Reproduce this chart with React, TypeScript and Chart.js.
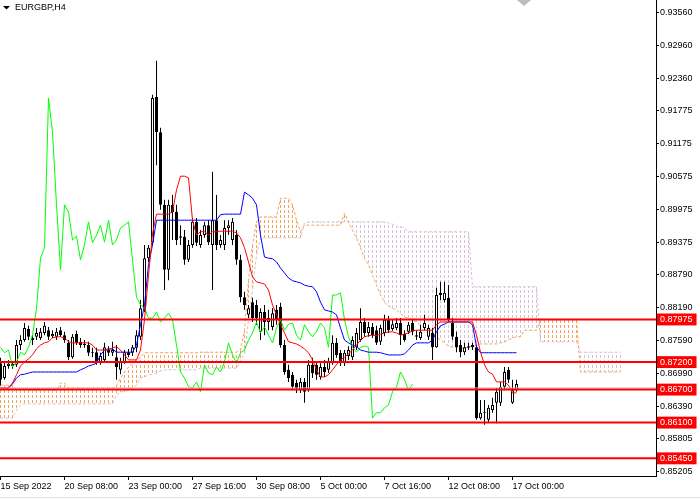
import React, { useEffect, useRef } from 'react';
import { Chart, registerables } from 'chart.js';

Chart.register(...registerables);

const TITLE = 'EURGBP,H4';

const xTickIndex = [0, 16, 32, 48, 64, 80, 96, 112, 128];
const xTickLabels = ['15 Sep 2022', '20 Sep 08:00', '23 Sep 00:00', '27 Sep 16:00', '30 Sep 08:00', '5 Oct 00:00', '7 Oct 16:00', '12 Oct 08:00', '17 Oct 00:00'];

const priceTicks = [0.9356, 0.9296, 0.9236, 0.91775, 0.91175, 0.90575, 0.89975, 0.89375, 0.8879, 0.8819, 0.8759, 0.8699, 0.8639, 0.85805, 0.85205];
const levelValues = [0.87975, 0.872, 0.867, 0.861, 0.8545];
const bidPrice = 0.8673;

const opens = [0.8718,0.8691,0.8713,0.8717,0.8715,0.8751,0.8760,0.8780,0.8760,0.8766,
0.8764,0.8773,0.8778,0.8767,0.8766,0.8778,0.8769,0.8755,0.8729,0.8771,
0.8757,0.8753,0.8751,0.8738,0.8738,0.8720,0.8724,0.8742,0.8737,0.8729,
0.8706,0.8720,0.8738,0.8737,0.8746,0.8766,0.8818,0.8909,0.8938,0.9202,
0.9138,0.9006,0.8888,0.9006,0.8993,0.8946,0.8948,0.8906,0.8933,0.8975,
0.8933,0.8951,0.8969,0.8933,0.8978,0.8933,0.8933,0.8964,0.8942,0.8951,
0.8906,0.8838,0.8806,0.8829,0.8824,0.8775,0.8811,0.8793,0.8784,0.8815,
0.8820,0.8751,0.8706,0.8697,0.8682,0.8669,0.8684,0.8669,0.8715,0.8715,
0.8693,0.8711,0.8706,0.8718,0.8755,0.8737,0.8718,0.8731,0.8729,0.8747,
0.8760,0.8793,0.8773,0.8784,0.8778,0.8757,0.8773,0.8797,0.8780,0.8782,
0.8791,0.8771,0.8775,0.8791,0.8769,0.8764,0.8782,0.8766,0.8773,0.8747,
0.8846,0.8833,0.8837,0.8791,0.8766,0.8751,0.8738,0.8746,0.8751,0.8747,
0.8618,0.8629,0.8615,0.8633,0.8646,0.8646,0.8675,0.8706,0.8646,0.8669];

const closes = [0.8688,0.8713,0.8717,0.8713,0.8751,0.8760,0.8782,0.8766,0.8764,0.8773,
0.8775,0.8786,0.8766,0.8771,0.8775,0.8769,0.8760,0.8729,0.8766,0.8755,
0.8751,0.8751,0.8737,0.8737,0.8720,0.8731,0.8747,0.8737,0.8742,0.8711,
0.8720,0.8738,0.8733,0.8747,0.8769,0.8818,0.8909,0.8928,0.9200,0.9138,
0.9006,0.8888,0.9006,0.8993,0.8942,0.8949,0.8906,0.8933,0.8975,0.8937,
0.8951,0.8969,0.8938,0.8978,0.8933,0.8942,0.8964,0.8969,0.8975,0.8906,
0.8838,0.8824,0.8818,0.8800,0.8800,0.8811,0.8793,0.8800,0.8809,0.8797,
0.8751,0.8702,0.8691,0.8675,0.8673,0.8684,0.8666,0.8715,0.8700,0.8697,
0.8711,0.8702,0.8720,0.8755,0.8733,0.8718,0.8737,0.8742,0.8760,0.8773,
0.8793,0.8773,0.8784,0.8769,0.8755,0.8782,0.8797,0.8778,0.8789,0.8791,
0.8769,0.8760,0.8788,0.8775,0.8766,0.8775,0.8791,0.8782,0.8747,0.8842,
0.8842,0.8846,0.8797,0.8766,0.8747,0.8738,0.8747,0.8749,0.8747,0.8618,
0.8628,0.8628,0.8637,0.8642,0.8666,0.8675,0.8702,0.8688,0.8669,0.8680];

const highs = [0.8728,0.8720,0.8724,0.8722,0.8760,0.8769,0.8791,0.8786,0.8769,0.8782,
0.8782,0.8793,0.8784,0.8778,0.8782,0.8784,0.8775,0.8760,0.8771,0.8777,
0.8764,0.8760,0.8757,0.8746,0.8746,0.8737,0.8755,0.8749,0.8757,0.8751,
0.8728,0.8742,0.8744,0.8751,0.8778,0.8833,0.8933,0.8933,0.9206,0.9268,
0.9146,0.9015,0.9015,0.9024,0.9006,0.8969,0.8960,0.8942,0.8982,0.8982,
0.8960,0.8975,0.8978,0.9066,0.9024,0.8951,0.8978,0.8978,0.8982,0.8960,
0.8915,0.8848,0.8824,0.8837,0.8833,0.8818,0.8824,0.8815,0.8818,0.8824,
0.8828,0.8760,0.8715,0.8702,0.8688,0.8691,0.8691,0.8724,0.8728,0.8720,
0.8718,0.8724,0.8728,0.8769,0.8764,0.8742,0.8742,0.8749,0.8767,0.8782,
0.8818,0.8800,0.8793,0.8791,0.8786,0.8788,0.8806,0.8804,0.8797,0.8800,
0.8800,0.8778,0.8793,0.8797,0.8778,0.8788,0.8806,0.8788,0.8782,0.8855,
0.8866,0.8866,0.8860,0.8800,0.8775,0.8760,0.8755,0.8755,0.8755,0.8751,
0.8651,0.8651,0.8642,0.8655,0.8673,0.8684,0.8711,0.8711,0.8688,0.8688];

const lows = [0.8678,0.8688,0.8708,0.8708,0.8711,0.8742,0.8757,0.8760,0.8751,0.8760,
0.8760,0.8769,0.8760,0.8764,0.8760,0.8766,0.8755,0.8724,0.8726,0.8751,
0.8746,0.8746,0.8731,0.8729,0.8715,0.8715,0.8720,0.8731,0.8731,0.8688,
0.8698,0.8717,0.8729,0.8731,0.8738,0.8760,0.8811,0.8902,0.8933,0.9078,
0.8997,0.8851,0.8869,0.8942,0.8933,0.8933,0.8897,0.8902,0.8928,0.8931,
0.8928,0.8946,0.8933,0.8851,0.8924,0.8928,0.8924,0.8951,0.8933,0.8897,
0.8829,0.8815,0.8800,0.8793,0.8788,0.8760,0.8769,0.8778,0.8778,0.8788,
0.8746,0.8697,0.8684,0.8669,0.8664,0.8664,0.8646,0.8666,0.8691,0.8688,
0.8688,0.8693,0.8700,0.8715,0.8728,0.8713,0.8713,0.8724,0.8724,0.8742,
0.8757,0.8766,0.8766,0.8764,0.8751,0.8751,0.8767,0.8773,0.8777,0.8778,
0.8751,0.8757,0.8771,0.8769,0.8760,0.8760,0.8778,0.8760,0.8724,0.8746,
0.8833,0.8829,0.8793,0.8760,0.8738,0.8729,0.8733,0.8742,0.8742,0.8615,
0.8615,0.8606,0.8611,0.8628,0.8609,0.8640,0.8669,0.8682,0.8644,0.8666];

const tenkan = [0.8673,0.8673,0.8673,0.8682,0.8697,0.8713,0.8720,0.8726,0.8733,0.8744,
0.8751,0.8755,0.8757,0.8764,0.8766,0.8766,0.8764,0.8757,0.8755,0.8755,
0.8755,0.8755,0.8755,0.8751,0.8742,0.8742,0.8742,0.8742,0.8746,0.8748,
0.8742,0.8733,0.8724,0.8724,0.8724,0.8742,0.8797,0.8878,0.8953,0.8989,
0.8989,0.8989,0.8989,0.8993,0.9033,0.9058,0.9058,0.9055,0.8978,0.8951,
0.8957,0.8957,0.8951,0.8957,0.8957,0.8958,0.8958,0.8958,0.8958,0.8955,
0.8946,0.8928,0.8902,0.8875,0.8866,0.8864,0.8862,0.8851,0.8824,0.8806,
0.8788,0.8773,0.8757,0.8755,0.8753,0.8749,0.8744,0.8737,0.8724,0.8706,
0.8693,0.8693,0.8697,0.8706,0.8715,0.8724,0.8729,0.8735,0.8742,0.8751,
0.8760,0.8766,0.8768,0.8769,0.8768,0.8771,0.8773,0.8775,0.8775,0.8773,
0.8769,0.8771,0.8773,0.8777,0.8778,0.8778,0.8778,0.8778,0.8778,0.8788,
0.8793,0.8793,0.8793,0.8793,0.8793,0.8793,0.8793,0.8793,0.8793,0.8769,
0.8738,0.8715,0.8702,0.8698,0.8684,0.8684,0.8684,0.8678,0.8664,0.8664];

const kijun = [0.8673,0.8673,0.8673,0.8680,0.8691,0.8697,0.8698,0.8700,0.8702,0.8702,
0.8702,0.8702,0.8702,0.8702,0.8702,0.8702,0.8702,0.8702,0.8702,0.8702,
0.8706,0.8709,0.8713,0.8715,0.8718,0.8733,0.8742,0.8744,0.8744,0.8738,
0.8738,0.8738,0.8738,0.8738,0.8751,0.8788,0.8824,0.8897,0.8933,0.8978,
0.8978,0.8978,0.8978,0.8978,0.8978,0.8978,0.8978,0.8978,0.8978,0.8978,
0.8978,0.8978,0.8978,0.8978,0.8978,0.8988,0.8989,0.8989,0.8989,0.8989,
0.8989,0.9029,0.9024,0.9018,0.9006,0.8951,0.8911,0.8909,0.8908,0.8902,
0.8891,0.8882,0.8873,0.8868,0.8866,0.8864,0.8860,0.8858,0.8857,0.8848,
0.8829,0.8815,0.8813,0.8811,0.8806,0.8782,0.8760,0.8755,0.8751,0.8748,
0.8742,0.8740,0.8738,0.8738,0.8738,0.8737,0.8735,0.8733,0.8733,0.8733,
0.8733,0.8735,0.8742,0.8751,0.8755,0.8755,0.8755,0.8755,0.8760,0.8775,
0.8786,0.8789,0.8793,0.8793,0.8793,0.8793,0.8793,0.8793,0.8788,0.8748,
0.8737,0.8737,0.8737,0.8737,0.8737,0.8737,0.8737,0.8737,0.8737,0.8737];

const spanA = [0.8678,0.8678,0.8678,0.8678,0.8669,0.8669,0.8669,0.8669,0.8669,0.8669,
0.8669,0.8669,0.8669,0.8669,0.8669,0.8682,0.8682,0.8673,0.8673,0.8673,
0.8673,0.8673,0.8673,0.8673,0.8673,0.8673,0.8673,0.8673,0.8673,0.8677,
0.8691,0.8702,0.8711,0.8718,0.8724,0.8729,0.8737,0.8737,0.8737,0.8737,
0.8737,0.8737,0.8737,0.8737,0.8737,0.8737,0.8737,0.8737,0.8737,0.8737,
0.8738,0.8738,0.8738,0.8738,0.8738,0.8738,0.8738,0.8738,0.8738,0.8738,
0.8742,0.8778,0.8869,0.8933,0.8975,0.8984,0.8984,0.8984,0.8984,0.8984,
0.9018,0.9018,0.9018,0.9006,0.8978,0.8957,0.8969,0.8969,0.8969,0.8969,
0.8969,0.8969,0.8969,0.8969,0.8969,0.8969,0.8991,0.8975,0.8960,0.8946,
0.8928,0.8909,0.8897,0.8878,0.8860,0.8842,0.8829,0.8822,0.8818,0.8815,
0.8808,0.8802,0.8800,0.8797,0.8793,0.8788,0.8784,0.8780,0.8775,0.8767,
0.8760,0.8755,0.8749,0.8747,0.8746,0.8746,0.8746,0.8747,0.8749,0.8751,
0.8753,0.8753,0.8753,0.8753,0.8753,0.8755,0.8757,0.8760,0.8764,0.8766,
0.8766,0.8778,0.8778,0.8778,0.8778,0.8797,0.8797,0.8797,0.8797,0.8797,
0.8797,0.8797,0.8797,0.8797,0.8797,0.8702,0.8702,0.8702,0.8702,0.8702,
0.8702,0.8702,0.8702,0.8702,0.8702,0.8702];

const spanB = [0.8618,0.8618,0.8618,0.8618,0.8633,0.8642,0.8644,0.8644,0.8644,0.8644,
0.8644,0.8644,0.8644,0.8644,0.8644,0.8644,0.8644,0.8644,0.8644,0.8644,
0.8644,0.8644,0.8644,0.8644,0.8644,0.8644,0.8644,0.8644,0.8644,0.8660,
0.8666,0.8666,0.8669,0.8673,0.8678,0.8691,0.8693,0.8697,0.8698,0.8700,
0.8704,0.8706,0.8706,0.8706,0.8706,0.8706,0.8706,0.8706,0.8706,0.8706,
0.8709,0.8709,0.8709,0.8709,0.8709,0.8709,0.8709,0.8709,0.8709,0.8709,
0.8724,0.8733,0.8797,0.8851,0.8915,0.8946,0.8946,0.8946,0.8946,0.8946,
0.8946,0.8946,0.8946,0.8946,0.8946,0.8946,0.8973,0.8975,0.8975,0.8975,
0.8975,0.8975,0.8975,0.8975,0.8975,0.8975,0.8975,0.8975,0.8975,0.8975,
0.8975,0.8975,0.8975,0.8975,0.8975,0.8975,0.8975,0.8973,0.8971,0.8966,
0.8966,0.8964,0.8957,0.8957,0.8957,0.8957,0.8957,0.8957,0.8957,0.8957,
0.8957,0.8957,0.8957,0.8957,0.8957,0.8957,0.8957,0.8957,0.8857,0.8857,
0.8857,0.8857,0.8857,0.8857,0.8857,0.8857,0.8857,0.8857,0.8857,0.8857,
0.8857,0.8857,0.8857,0.8857,0.8857,0.8757,0.8757,0.8757,0.8757,0.8757,
0.8757,0.8757,0.8757,0.8757,0.8757,0.8738,0.8738,0.8738,0.8738,0.8738,
0.8738,0.8738,0.8738,0.8738,0.8738,0.8738];

const CHIKOU_SHIFT = 26;

const X_MIN = -0.125;
const X_MAX = 163.875;
const Y_MIN = 0.851291;
const Y_MAX = 0.937836;
const FONT = '"Liberation Sans", Arial, sans-serif';

const yTicks = [...priceTicks, ...levelValues].sort((a, b) => b - a);
const isLevel = (v: any) => levelValues.indexOf(v) >= 0;

function hatch(ctx: CanvasRenderingContext2D, color: string) {
  const c = document.createElement('canvas');
  c.width = 1;
  c.height = 5;
  const g = c.getContext('2d')!;
  g.fillStyle = color;
  g.fillRect(0, 0, 1, 3);
  return ctx.createPattern(c, 'repeat');
}

const overlayPlugin = {
  id: 'mt4overlay',
  afterDraw(chart: any) {
    const ctx = chart.ctx as CanvasRenderingContext2D;
    const xs = chart.scales.x;
    ctx.save();
    ctx.fillStyle = '#000';
    ctx.beginPath();
    ctx.moveTo(3, 6);
    ctx.lineTo(10, 6);
    ctx.lineTo(6.5, 9.5);
    ctx.closePath();
    ctx.fill();
    ctx.font = `9px ${FONT}`;
    ctx.textBaseline = 'middle';
    ctx.textAlign = 'left';
    ctx.fillText(TITLE, 15, 8);
    const sx = Math.round(xs.getPixelForValue(opens.length + 0.75));
    ctx.fillStyle = '#BDBDBD';
    ctx.beginPath();
    ctx.moveTo(sx - 7, 0);
    ctx.lineTo(sx + 7, 0);
    ctx.lineTo(sx, 6);
    ctx.closePath();
    ctx.fill();
    ctx.fillStyle = '#DDE4EC';
    ctx.fillRect(0, chart.height - 3, chart.width, 1);
    ctx.restore();
  },
};

export default function App() {
  const ref = useRef<HTMLCanvasElement>(null);

  useEffect(() => {
    document.body.style.margin = '0';
    const canvas = ref.current!;
    const ctx = canvas.getContext('2d')!;
    const orange = hatch(ctx, '#F4A460');
    const plum = hatch(ctx, '#D8BFD8');
    const idx = opens.map((_, i) => i);
    const cloudIdx = spanA.map((_, i) => i);

    const line = (label: string, data: any[], color: string, order: number, extra: any = {}) => ({
      type: 'line',
      label,
      data,
      borderColor: color,
      backgroundColor: color,
      borderWidth: 1,
      pointRadius: 0,
      tension: 0,
      fill: false,
      order,
      ...extra,
    });

    const datasets: any[] = [
      ...levelValues.map((v) =>
        line('level', [{ x: X_MIN, y: v }, { x: X_MAX, y: v }], '#FF0000', 0, { borderWidth: 2 })
      ),
      line('bid', [{ x: X_MIN, y: bidPrice }, { x: X_MAX, y: bidPrice }], '#C0C0C0', 1),
      line('Tenkan', tenkan.map((v, i) => ({ x: i, y: v })), '#FF0000', 2),
      line('Kijun', kijun.map((v, i) => ({ x: i, y: v })), '#0000FF', 3),
      line('Chikou', closes.slice(CHIKOU_SHIFT).map((v, i) => ({ x: i, y: v })), '#00FF00', 4),
      {
        type: 'bar',
        label: 'body',
        data: idx.map((i) => ({ x: i, y: [opens[i], closes[i]] })),
        backgroundColor: idx.map((i) => (closes[i] >= opens[i] ? '#FFFFFF' : '#000000')),
        borderColor: '#000000',
        borderWidth: 1,
        borderSkipped: false,
        grouped: false,
        barPercentage: 0.75,
        categoryPercentage: 1,
        maxBarThickness: 3,
        minBarLength: 1,
        inflateAmount: 0,
        order: 5,
      },
      {
        type: 'bar',
        label: 'wick',
        data: idx.map((i) => ({ x: i, y: [lows[i], highs[i]] })),
        backgroundColor: '#000000',
        borderWidth: 0,
        grouped: false,
        barPercentage: 0.25,
        categoryPercentage: 1,
        maxBarThickness: 1,
        inflateAmount: 0,
        order: 6,
      },
      line('SpanA', spanA.map((v, i) => ({ x: i, y: v })), '#F4A460', 7, { borderDash: [3, 2] }),
      line('SpanB', spanB.map((v, i) => ({ x: i, y: v })), '#D8BFD8', 8, { borderDash: [3, 2] }),
      {
        type: 'bar',
        label: 'cloud',
        data: cloudIdx.map((i) => ({ x: i, y: [spanA[i], spanB[i]] })),
        backgroundColor: cloudIdx.map((i) => (spanA[i] >= spanB[i] ? orange : plum)),
        borderWidth: 0,
        grouped: false,
        barPercentage: 0.25,
        categoryPercentage: 1,
        maxBarThickness: 1,
        inflateAmount: 0,
        order: 9,
      },
    ];

    const chart = new Chart(canvas, {
      type: 'bar',
      data: { datasets },
      options: {
        animation: false,
        responsive: false,
        devicePixelRatio: 1,
        events: [],
        layout: { padding: 0 },
        plugins: {
          legend: { display: false },
          tooltip: { enabled: false },
        },
        scales: {
          x: {
            type: 'linear',
            position: 'bottom',
            min: X_MIN,
            max: X_MAX,
            offset: false,
            grid: { display: true, drawOnChartArea: false, drawTicks: true, tickLength: 4, color: '#000', offset: false },
            border: { display: true, color: '#000', width: 1 },
            ticks: {
              autoSkip: false,
              maxRotation: 0,
              minRotation: 0,
              align: 'start',
              padding: 1,
              color: '#000',
              font: { family: FONT, size: 9 },
              callback: (_v: any, i: number) => xTickLabels[i] ?? '',
            },
            afterBuildTicks: (s: any) => {
              s.ticks = xTickIndex.map((v) => ({ value: v }));
            },
            afterFit: (s: any) => {
              s.height = 24;
              s.paddingLeft = 0;
              s.paddingRight = 0;
            },
          },
          y: {
            type: 'linear',
            position: 'right',
            min: Y_MIN,
            max: Y_MAX,
            beginAtZero: false,
            grid: { display: true, drawOnChartArea: false, drawTicks: true, tickLength: 3, color: '#000' },
            border: { display: true, color: '#000', width: 1 },
            ticks: {
              autoSkip: false,
              padding: 1,
              font: { family: FONT, size: 9, lineHeight: 1.1 },
              color: (c: any) => (c.tick && isLevel(c.tick.value) ? '#FFFFFF' : '#000000'),
              showLabelBackdrop: (c: any) => !!(c.tick && isLevel(c.tick.value)),
              backdropColor: '#FF0000',
              backdropPadding: { left: 3, right: 4, top: 1, bottom: 1 },
              callback: (v: any) => Number(v).toFixed(5),
            },
            afterBuildTicks: (s: any) => {
              s.ticks = yTicks.map((v) => ({ value: v }));
            },
            afterFit: (s: any) => {
              s.width = 44;
              s.paddingTop = 0;
              s.paddingBottom = 0;
            },
          },
        },
      } as any,
      plugins: [overlayPlugin],
    } as any);

    return () => chart.destroy();
  }, []);

  return <canvas ref={ref} width={700} height={500} style={{ display: 'block', width: 700, height: 500 }} />;
}
